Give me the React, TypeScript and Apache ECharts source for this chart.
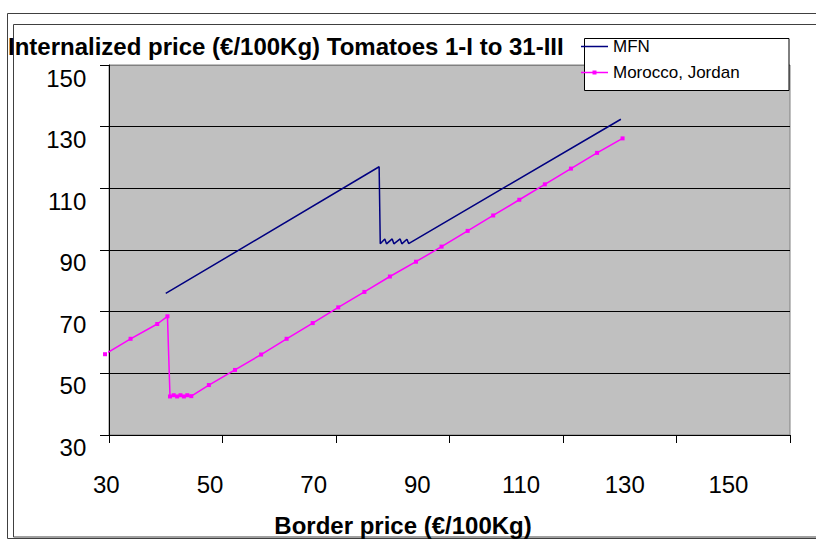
import React, { useEffect, useRef } from 'react';
import * as echarts from 'echarts';

const FONT = '"Liberation Sans", Arial, Helvetica, sans-serif';

const titleText = 'Internalized price (€/100Kg) Tomatoes 1-I to 31-III';
const xAxisTitle = 'Border price (€/100Kg)';
const seriesNames = ['MFN', 'Morocco, Jordan'];

const xTicks = [30, 50, 70, 90, 110, 130, 150];
const yTicks = [30, 50, 70, 90, 110, 130, 150];

const mfnX = [40.0, 77.6, 77.8, 78.6, 78.9, 79.9, 80.2, 81.3, 81.6, 82.5, 82.8, 120.2];
const mfnY = [75.9, 117.0, 92.0, 93.6, 92.0, 93.6, 92.0, 93.6, 92.0, 93.5, 92.1, 132.4];

const morX = [29.3, 33.8, 38.5, 40.3, 40.75, 41.4, 42.0, 42.6, 43.2, 43.8, 44.5, 47.6, 52.2, 56.8, 61.3, 65.9, 70.4, 75.0, 79.5, 84.1, 88.6, 93.2, 97.7, 102.3, 106.8, 111.4, 116.0, 120.5];
const morY = [56.2, 61.2, 66.0, 68.5, 42.5, 42.9, 42.5, 42.9, 42.5, 42.9, 42.6, 46.2, 51.1, 56.1, 61.2, 66.3, 71.4, 76.4, 81.4, 86.2, 91.1, 96.2, 101.2, 106.3, 111.3, 116.4, 121.5, 126.2];

const ICON_LINE = 'path://M0,0L0.01,0L0,0.01Z M0,3.3H27V4.7H0Z M0,8L0.01,8L0,7.99Z';
const ICON_LINE_MARK = 'path://M0,0L0.01,0L0,0.01Z M0,3.3H27V4.7H0Z M11.5,2H15.5V6H11.5Z M0,8L0.01,8L0,7.99Z';

export default function App() {
  const ref = useRef<HTMLDivElement>(null);
  useEffect(() => {
    const chart = echarts.init(ref.current!, null, { renderer: 'svg' });
    const xMin = xTicks[0];
    const xMax = xTicks[xTicks.length - 1];
    const xInt = xTicks[1] - xTicks[0];
    const yMin = yTicks[0];
    const yMax = yTicks[yTicks.length - 1];
    const yInt = yTicks[1] - yTicks[0];
    chart.setOption({
      animation: false,
      backgroundColor: '#ffffff',
      textStyle: { fontFamily: FONT },
      grid: [
        { left: 109, top: 65, width: 681, height: 370, show: true, backgroundColor: '#C0C0C0', borderColor: '#808080', borderWidth: 1 },
        { left: 106.3, top: 78, width: 622.1, height: 369, show: false },
      ],
      xAxis: [
        {
          type: 'value', gridIndex: 0, min: xMin, max: xMax, interval: xInt,
          axisLine: { show: true, onZero: false, lineStyle: { color: '#000', width: 1 } },
          axisTick: { show: true, inside: false, length: 8, lineStyle: { color: '#000', width: 1 } },
          axisLabel: { show: false },
          splitLine: { show: false },
        },
        {
          type: 'value', gridIndex: 1, min: xMin, max: xMax, interval: xInt,
          axisLine: { show: false }, axisTick: { show: false }, splitLine: { show: false },
          axisLabel: { show: true, fontSize: 24, color: '#000', margin: 25, fontFamily: FONT },
        },
      ],
      yAxis: [
        {
          type: 'value', gridIndex: 0, min: yMin, max: yMax, interval: yInt,
          axisLine: { show: true, onZero: false, lineStyle: { color: '#000', width: 1 } },
          axisTick: { show: true, inside: false, length: 9, lineStyle: { color: '#000', width: 1 } },
          axisLabel: { show: false },
          splitLine: { show: true, lineStyle: { color: ['#000', '#000', '#000', '#000', '#000', '#000', '#808080'], width: 1 } },
        },
        {
          type: 'value', gridIndex: 1, min: yMin, max: yMax, interval: yInt,
          axisLine: { show: false }, axisTick: { show: false }, splitLine: { show: false },
          axisLabel: { show: true, fontSize: 24, color: '#000', margin: 20, fontFamily: FONT },
        },
      ],
      legend: {
        data: [
          { name: seriesNames[0], icon: ICON_LINE },
          { name: seriesNames[1], icon: ICON_LINE_MARK },
        ],
        orient: 'vertical',
        left: 581,
        top: 38,
        padding: 0,
        itemWidth: 27,
        itemHeight: 8,
        itemGap: 9,
        textStyle: { fontSize: 17, color: '#000', fontFamily: FONT, lineHeight: 17 },
      },
      graphic: [
        { type: 'rect', shape: { x: 7.5, y: 13.5, width: 830, height: 525 }, style: { fill: 'none', stroke: '#404040', lineWidth: 1 }, silent: true },
        { type: 'rect', shape: { x: 13.5, y: 24.5, width: 830, height: 512.5 }, style: { fill: 'none', stroke: '#404040', lineWidth: 1 }, silent: true },
        { type: 'rect', z: 3, shape: { x: 584.5, y: 38.5, width: 204.5, height: 52 }, style: { fill: '#fff', stroke: '#000', lineWidth: 1 }, silent: true },
        { type: 'text', x: 8, y: 46, z: 5, style: { text: titleText, fontSize: 24, fontWeight: 'bold', fontFamily: FONT, fill: '#000', verticalAlign: 'middle', align: 'left' } },
        { type: 'text', x: 403, y: 525, z: 5, style: { text: xAxisTitle, fontSize: 24, fontWeight: 'bold', fontFamily: FONT, fill: '#000', verticalAlign: 'middle', align: 'center' } },
      ],
      series: [
        {
          type: 'line', name: seriesNames[0], xAxisIndex: 0, yAxisIndex: 0,
          data: mfnX.map((x, i) => [x, mfnY[i]]),
          symbol: 'none',
          lineStyle: { color: '#000080', width: 1.5 },
          itemStyle: { color: '#000080' },
        },
        {
          type: 'line', name: seriesNames[1], xAxisIndex: 0, yAxisIndex: 0,
          data: morX.map((x, i) => [x, morY[i]]),
          symbol: 'rect', symbolSize: 4, showSymbol: true, clip: false,
          lineStyle: { color: '#FF00FF', width: 1.5 },
          itemStyle: { color: '#FF00FF' },
        },
      ],
    });
    return () => chart.dispose();
  }, []);
  return <div ref={ref} style={{ position: 'absolute', left: 0, top: 0, width: 816, height: 543 }} />;
}
